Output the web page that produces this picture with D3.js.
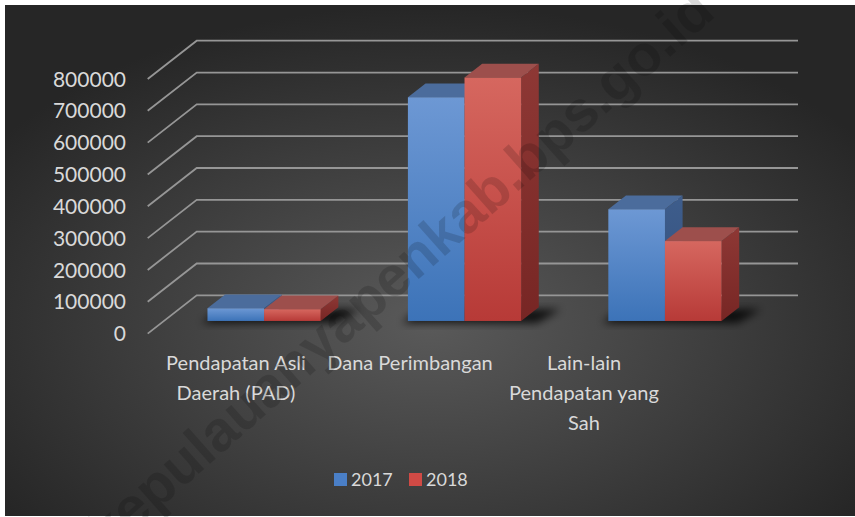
<!DOCTYPE html>
<html>
<head>
<meta charset="utf-8">
<script src="https://cdn.jsdelivr.net/npm/d3@7"></script>
<style>
  body { margin: 0; background: #fff; }
  text { font-family: Lato, "Noto Sans", sans-serif; fill: #d9d9d9; }
</style>
</head>
<body>
<svg id="chart" width="855" height="517"></svg>
<script>
const categories = ["Pendapatan Asli Daerah (PAD)", "Dana Perimbangan", "Lain-lain Pendapatan yang Sah"];
const categoryLines = [["Pendapatan Asli", "Daerah (PAD)"], ["Dana Perimbangan"], ["Lain-lain", "Pendapatan yang", "Sah"]];
const series = ["2017", "2018"];
const values2017 = [40000, 703000, 351000];
const values2018 = [37000, 765000, 251000];
const yTicks = [0, 100000, 200000, 300000, 400000, 500000, 600000, 700000, 800000];
const watermark = "kepulauanyapenkab.bps.go.id";

const svg = d3.select("#chart");
const defs = svg.append("defs");

// oblique depth of the 3d box and where the bars sit inside it
const depth = { dx: 49, dy: -38.3 };
const barDepth = [0.33, 0.69];
const off = (t) => [depth.dx * t, depth.dy * t];

const x0 = d3.scaleBand().domain(categories).range([147.7, 749]);
const x1 = d3.scaleBand().domain(series).range([0, x0.bandwidth()]).paddingOuter(0.77);
const y = d3.scaleLinear().domain([0, 800000]).range([333.6, 79]);
const xLabel = d3.scalePoint().domain(categories).range([236, 584]);

const colors = {
  "2017": { top: "#6d98d4", bottom: "#3c73b8", lid: "#4b6c9c", side0: "#3e5d8c", side1: "#33507c", key: "#4a7fc7" },
  "2018": { top: "#d6675f", bottom: "#b73a37", lid: "#9d4f4c", side0: "#8e3835", side1: "#772624", key: "#d04a45" }
};

// background
const bg = defs.append("radialGradient").attr("id", "bg")
  .attr("cx", "0.5").attr("cy", "0.62").attr("r", "0.62");
bg.append("stop").attr("offset", "0").attr("stop-color", "#5a5a5a");
bg.append("stop").attr("offset", "1").attr("stop-color", "#262626");
svg.append("rect").attr("x", 5).attr("y", 5).attr("width", 850).attr("height", 511).attr("fill", "url(#bg)");

series.forEach((s) => {
  const c = colors[s];
  const f = defs.append("linearGradient").attr("id", "front" + s).attr("x1", 0).attr("y1", 0).attr("x2", 0).attr("y2", 1);
  f.append("stop").attr("offset", 0).attr("stop-color", c.top);
  f.append("stop").attr("offset", 1).attr("stop-color", c.bottom);
  const sd = defs.append("linearGradient").attr("id", "side" + s).attr("x1", 0).attr("y1", 0).attr("x2", 0).attr("y2", 1);
  sd.append("stop").attr("offset", 0).attr("stop-color", c.side0);
  sd.append("stop").attr("offset", 1).attr("stop-color", c.side1);
});

defs.append("filter").attr("id", "blur").attr("x", "-50%").attr("y", "-50%").attr("width", "200%").attr("height", "200%")
  .append("feGaussianBlur").attr("stdDeviation", 4);

// gridlines: front edge runs back diagonally, then along the back wall
const [bx, by] = off(1);
svg.append("g").selectAll("path").data(yTicks).join("path")
  .attr("d", (v) => `M${x0.range()[0]},${y(v)}L${x0.range()[0] + bx},${y(v) + by}H${x0.range()[1] + bx}`)
  .attr("fill", "none").attr("stroke", "#969696").attr("stroke-width", 1.8);

// y labels
svg.append("g").selectAll("text").data(yTicks).join("text")
  .attr("x", 126).attr("y", (v) => y(v)).attr("dy", "0.36em")
  .attr("text-anchor", "end").style("font-size", "21px")
  .text((v) => v);

const rows = [];
categories.forEach((cat, i) => {
  rows.push({ cat, s: "2017", v: values2017[i] });
  rows.push({ cat, s: "2018", v: values2018[i] });
});

const [ax, ay] = off(barDepth[0]);
const [ex, ey] = off(barDepth[1] - barDepth[0]);
const w = x1.bandwidth();

// floor shadows
svg.append("g").attr("filter", "url(#blur)").selectAll("path").data(categories).join("path")
  .attr("d", (cat) => {
    const l = x0(cat) + x1("2017") + ax - 6, r = x0(cat) + x1("2018") + w + ax + 16, b = y(0) + ay + 2;
    return `M${l},${b}L${r},${b}L${r + ex + 6},${b + ey}L${l + ex},${b + ey}Z`;
  })
  .attr("fill", "#000").attr("opacity", 0.8);

const bars = svg.append("g").selectAll("g").data(rows).join("g");
bars.each(function (d) {
  const g = d3.select(this);
  const l = x0(d.cat) + x1(d.s) + ax, r = l + w, t = y(d.v) + ay, b = y(0) + ay;
  g.append("path").attr("d", `M${r},${t}L${r + ex},${t + ey}V${b + ey}L${r},${b}Z`).attr("fill", `url(#side${d.s})`);
  g.append("path").attr("d", `M${l},${t}L${l + ex},${t + ey}H${r + ex}L${r},${t}Z`).attr("fill", colors[d.s].lid);
  g.append("rect").attr("x", l).attr("y", t).attr("width", w).attr("height", b - t).attr("fill", `url(#front${d.s})`);
});

// category labels
const cl = svg.append("g").selectAll("text").data(categories).join("text")
  .attr("text-anchor", "middle").style("font-size", "20px");
cl.selectAll("tspan").data((c, i) => categoryLines[i].map((line) => ({ c, line }))).join("tspan")
  .attr("x", (d) => xLabel(d.c)).attr("y", (d, j) => 363 + j * 30).attr("dy", "0.36em")
  .text((d) => d.line);

// legend
const legendX = d3.scalePoint().domain(series).range([334, 409]);
const lg = svg.append("g").selectAll("g").data(series).join("g")
  .attr("transform", (s) => `translate(${legendX(s)},480)`);
lg.append("rect").attr("y", -7).attr("width", 13).attr("height", 13).attr("fill", (s) => colors[s].key);
lg.append("text").attr("x", 17).attr("dy", "0.36em").style("font-size", "18px").text((s) => s);

// watermark
svg.append("text")
  .attr("transform", "translate(399,270) rotate(-41.5)")
  .attr("text-anchor", "middle").attr("dy", "0.35em")
  .style("font-family", "'Liberation Sans', Arial, sans-serif").style("font-weight", "bold").style("font-size", "57px")
  .style("fill", "#000").style("fill-opacity", 0.15)
  .text(watermark);
</script>
</body>
</html>
